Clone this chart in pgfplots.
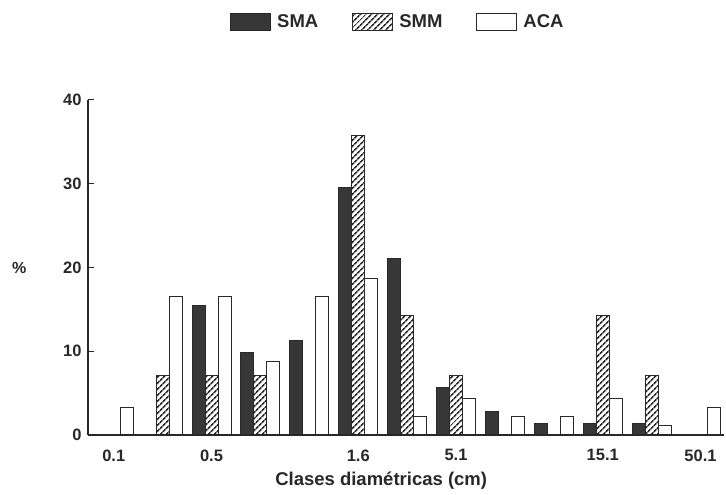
\documentclass[border=0pt]{standalone}
\usepackage{fontspec}
\setmainfont{Liberation Sans}
\usepackage{pgfplots}
\pgfplotsset{compat=1.18}
\usetikzlibrary{patterns.meta}
\definecolor{smafill}{RGB}{55,55,55}
\definecolor{inkc}{RGB}{40,40,40}
\pgfplotsset{mybox legend/.style={legend image code/.code={\draw[##1, line width=1pt] (0pt,-8.5pt) rectangle (40pt,8.5pt);}}}
\begin{document}
\begin{tikzpicture}
\begin{axis}[
  name=ax,
  scale only axis, width=636pt, height=335pt,
  xmin=-0.526, xmax=12.48, ymin=0, ymax=40,
  axis lines*=left,
  axis line style={line width=1.2pt, inkc},
  ybar=0pt, bar width=13pt,
  every axis plot post/.append style={mybox legend},
  xtick={0,2,5,7,10,12},
  xticklabels={0.1,0.5,1.6,5.1,15.1,50.1},
  major x tick style={draw=none},
  ytick={0,10,20,30,40},
  major tick length=6pt,
  y tick style={line width=1pt, inkc},
  /pgf/number format/assume math mode=true,
  tick label style={font=\bfseries\fontsize{16.5}{19}\selectfont, text=inkc},
  yticklabel style={xshift=-3pt},
  xticklabel style={yshift=-5pt},
  xlabel={Clases diamétricas (cm)},
  xlabel style={at={(axis description cs:0.461,0)}, anchor=center, yshift=-46pt, font=\bfseries\fontsize{18.5}{22}\selectfont, text=inkc},
  ylabel={\%},
  ylabel style={at={(axis description cs:-0.108,0.5)}, anchor=center, rotate=-90, font=\bfseries\fontsize{16}{18}\selectfont, text=inkc},
  legend style={at={(axis description cs:0.2186,1.233)}, anchor=west, draw=none, fill=none,
    font=\bfseries\fontsize{18.5}{21}\selectfont, text=inkc,
    /tikz/every odd column/.append style={column sep=4pt},
    /tikz/every even column/.append style={column sep=32pt}},
  legend columns=3,
]
\addplot[fill=smafill, draw=inkc, line width=1pt] coordinates {
 (0,0) (1,0) (2,15.49) (3,9.86) (4,11.27) (5,29.58) (6,21.13) (7,5.63) (8,2.82) (9,1.41) (10,1.41) (11,1.41) (12,0)};
\addplot[pattern={Lines[angle=45,distance=4pt,line width=1.7pt]}, pattern color=inkc, draw=inkc, line width=1pt] coordinates {
 (0,0) (1,7.14) (2,7.14) (3,7.14) (4,0) (5,35.71) (6,14.29) (7,7.14) (8,0) (9,0) (10,14.29) (11,7.14) (12,0)};
\addplot[fill=white, draw=inkc, line width=1pt] coordinates {
 (0,3.3) (1,16.5) (2,16.5) (3,8.8) (4,16.5) (5,18.7) (6,2.2) (7,4.4) (8,2.2) (9,2.2) (10,4.4) (11,1.1) (12,3.3)};
\legend{SMA,SMM,ACA}
\end{axis}
\pgfresetboundingbox
\path ([xshift=-88pt,yshift=-60pt]ax.south west) rectangle ([xshift=638pt,yshift=435pt]ax.south west);
\end{tikzpicture}
\end{document}
